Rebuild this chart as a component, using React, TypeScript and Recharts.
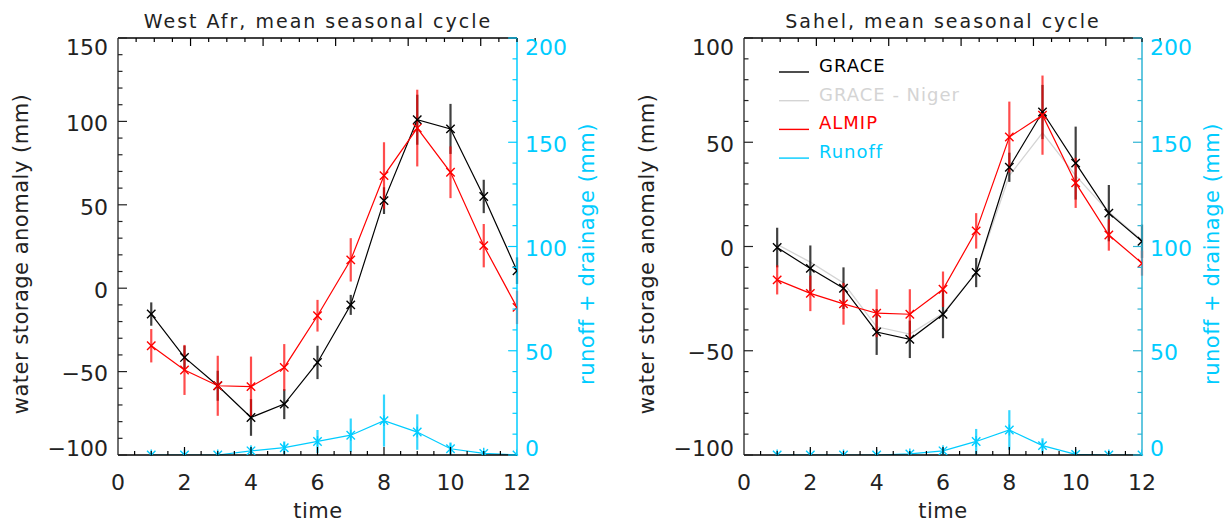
import { ComposedChart, Line, XAxis, YAxis, ErrorBar, Legend } from "recharts";

// months on the x axis
const months = [1, 2, 3, 4, 5, 6, 7, 8, 9, 10, 11, 12];
const xMajorTicks = [0, 2, 4, 6, 8, 10, 12];

// West Africa
const waGrace = [-15.5, -41.5, -58.5, -77.5, -69.5, -44.5, -10, 52.5, 101, 95.5, 55, 10.5];
const waGraceErr = [7, 7, 9, 11, 9, 10, 6, 8, 15, 15, 10, 8];
const waAlmip = [-34.5, -49, -58.5, -59, -47.5, -16.5, 17, 67.5, 96, 69.5, 25.5, -11.5];
const waAlmipErr = [10, 15, 18, 18, 14, 9.5, 13, 20, 23, 15.5, 13, 10];
const waRunoff = [0, 0, 0, 2, 3.5, 6.5, 9.5, 16.5, 11, 3, 0.8, 0];
const waRunoffErr = [0.5, 0.5, 0.5, 2, 3, 5.5, 8, 12.5, 8.5, 3, 1, 0.5];

// Sahel
const sGrace = [-0.5, -10.5, -20, -41, -44.5, -32.5, -12.5, 38, 64.5, 40, 16, 2.5];
const sGraceErr = [9.5, 11, 10, 11, 9, 11.5, 7, 7, 13, 17.5, 13.5, 8];
const sNiger = [1, -7.5, -17.5, -38.5, -42, -32, -12.5, 34, 54.5, 34, 16.5, 3];
const sAlmip = [-16, -22.5, -27.5, -32, -32.5, -20.5, 7.5, 52.5, 63, 30.5, 5.5, -8];
const sAlmipErr = [7, 8.5, 10, 11.5, 12, 8.5, 8.5, 17, 19, 12, 7.5, 6];
const sRunoff = [0, 0, 0, 0, 0.5, 2, 6.5, 12, 4.5, 0.3, 0, 0];
const sRunoffErr = [0.5, 0.5, 0.5, 0.5, 0.5, 1.5, 6, 9.5, 3.5, 0.5, 0.5, 0.5];

const waLeftMajor = [-100, -50, 0, 50, 100, 150];
const sLeftMajor = [-100, -50, 0, 50, 100];
const rightMajor = [0, 50, 100, 150, 200];

const legendItems = [
  { label: "GRACE", color: "#000000" },
  { label: "GRACE - Niger", color: "#d4d4d4" },
  { label: "ALMIP", color: "#ff0000" },
  { label: "Runoff", color: "#00ccff" },
];

const FONT = "'DejaVu Sans', sans-serif";
const CYAN = "#00ccff";

const withMinor = (majors: number[], step: number) => {
  const out: number[] = [];
  const lo = majors[0];
  const hi = majors[majors.length - 1];
  for (let v = lo; v <= hi + 1e-9; v += step) out.push(Math.round(v * 100) / 100);
  return out;
};
const fmt = (v: number) => (v < 0 ? "\u2212" + Math.abs(v) : String(v));

const xTick = (side: "bottom" | "top") => (props: any) => {
  const { x, y, payload } = props;
  const v = payload.value;
  const major = xMajorTicks.includes(v);
  const edge = v === xMajorTicks[0] || v === xMajorTicks[xMajorTicks.length - 1];
  const len = major ? 8 : 4;
  const dir = side === "bottom" ? -1 : 1;
  return (
    <g>
      {!edge && <line x1={x} x2={x} y1={y} y2={y + dir * len} stroke="#000" strokeWidth={1.2} />}
      {side === "bottom" && major && (
        <text x={x} y={y + 35} textAnchor="middle" fontSize={22} fontFamily={FONT} fill="#222">
          {v}
        </text>
      )}
    </g>
  );
};

const yTick =
  (side: "left" | "right", majors: number[], color: string, labelColor: string) => (props: any) => {
    const { x, y, payload } = props;
    const v = payload.value;
    const major = majors.includes(v);
    const len = major ? 9 : 4.5;
    const dir = side === "left" ? 1 : -1;
    let dy = 9.7;
    if (v === majors[majors.length - 1]) dy = 16.5;
    if (v === majors[0]) dy = 1;
    return (
      <g>
        <line x1={x} x2={x + dir * len} y1={y} y2={y} stroke={color} strokeWidth={1.2} />
        {major && (
          <text
            x={side === "left" ? x - 10 : x + 8}
            y={y + dy}
            textAnchor={side === "left" ? "end" : "start"}
            fontSize={22}
            fontFamily={FONT}
            fill={labelColor}
          >
            {fmt(v)}
          </text>
        )}
      </g>
    );
  };

const crossDot = (color: string) => (props: any) => {
  const { cx, cy, index } = props;
  if (cx == null || cy == null) return <g key={index} />;
  const s = 4.2;
  return (
    <path
      key={index}
      d={`M${cx - s},${cy - s}L${cx + s},${cy + s}M${cx - s},${cy + s}L${cx + s},${cy - s}`}
      stroke={color}
      strokeWidth={1.4}
      fill="none"
    />
  );
};

const starDot = (color: string) => (props: any) => {
  const { cx, cy, index } = props;
  if (cx == null || cy == null) return <g key={index} />;
  const s = 4.2;
  return (
    <path
      key={index}
      d={`M${cx - s},${cy - s}L${cx + s},${cy + s}M${cx - s},${cy + s}L${cx + s},${cy - s}M${cx},${cy - s * 1.3}L${cx},${cy + s * 1.3}`}
      stroke={color}
      strokeWidth={1.4}
      fill="none"
    />
  );
};

const LegendBox = () => (
  <svg width={220} height={120}>
    {legendItems.map((it, i) => (
      <g key={it.label}>
        <line x1={0} x2={30} y1={22 + i * 28.7} y2={22 + i * 28.7} stroke={it.color} strokeWidth={1.4} />
        <text x={40} y={22 + i * 28.7} fontSize={18} fontFamily={FONT} fill={it.color} letterSpacing={1}>
          {it.label}
        </text>
      </g>
    ))}
  </svg>
);

type PanelProps = {
  width: number;
  rightWidth: number;
  grace: number[];
  graceErr: number[];
  almip: number[];
  almipErr: number[];
  runoff: number[];
  runoffErr: number[];
  niger?: number[];
  leftMajor: number[];
  rightAxisColor: string;
  legend?: boolean;
};

function Panel(p: PanelProps) {
  const data = months.map((m, i) => ({
    month: m,
    grace: p.grace[i],
    graceErr: p.graceErr[i],
    almip: p.almip[i],
    almipErr: p.almipErr[i],
    runoff: p.runoff[i],
    runoffErr: p.runoffErr[i],
    niger: p.niger ? p.niger[i] : null,
  }));
  const xTicks = withMinor(xMajorTicks, 0.5);
  const lTicks = withMinor(p.leftMajor, 10);
  const rTicks = withMinor(rightMajor, 10);
  const lDomain = [p.leftMajor[0], p.leftMajor[p.leftMajor.length - 1]];
  return (
    <ComposedChart width={p.width} height={523} data={data} margin={{ top: 37, right: 0, bottom: 0, left: 0 }}>
      <XAxis
        dataKey="month"
        type="number"
        domain={[0, 12]}
        ticks={xTicks}
        interval={0}
        allowDataOverflow
        height={68}
        tickSize={0}
        tickMargin={0}
        tickLine={false}
        axisLine={{ stroke: "#000", strokeWidth: 1.3 }}
        tick={xTick("bottom")}
      />
      <XAxis
        xAxisId="top"
        orientation="top"
        type="number"
        domain={[0, 12]}
        ticks={xTicks}
        interval={0}
        height={1}
        tickSize={0}
        tickMargin={0}
        tickLine={false}
        axisLine={{ stroke: "#000", strokeWidth: 1.3 }}
        tick={xTick("top")}
      />
      <YAxis
        yAxisId="left"
        type="number"
        domain={lDomain}
        ticks={lTicks}
        interval={0}
        allowDataOverflow
        width={118}
        tickSize={0}
        tickMargin={0}
        tickLine={false}
        axisLine={{ stroke: "#222", strokeWidth: 1.3 }}
        tick={yTick("left", p.leftMajor, "#222", "#222")}
      />
      <YAxis
        yAxisId="right"
        orientation="right"
        type="number"
        domain={[0, 200]}
        ticks={rTicks}
        interval={0}
        allowDataOverflow
        width={p.rightWidth}
        tickSize={0}
        tickMargin={0}
        tickLine={false}
        axisLine={{ stroke: p.rightAxisColor, strokeWidth: 1.5 }}
        tick={yTick("right", rightMajor, p.rightAxisColor, CYAN)}
      />
      {p.niger && (
        <Line
          yAxisId="left"
          dataKey="niger"
          stroke="#d4d4d4"
          strokeWidth={1.3}
          dot={false}
          isAnimationActive={false}
        />
      )}
      <Line
        yAxisId="left"
        dataKey="grace"
        stroke="#000"
        strokeWidth={1.2}
        dot={crossDot("#000")}
        isAnimationActive={false}
      >
        <ErrorBar dataKey="graceErr" width={0} stroke="#000" strokeWidth={2.2} strokeOpacity={0.75} direction="y" />
      </Line>
      <Line
        yAxisId="left"
        dataKey="almip"
        stroke="#ff0000"
        strokeWidth={1.2}
        dot={crossDot("#ff0000")}
        isAnimationActive={false}
      >
        <ErrorBar dataKey="almipErr" width={0} stroke="#ff0000" strokeWidth={2.2} strokeOpacity={0.7} direction="y" />
      </Line>
      <Line
        yAxisId="right"
        dataKey="runoff"
        stroke={CYAN}
        strokeWidth={1.2}
        dot={starDot(CYAN)}
        isAnimationActive={false}
      >
        <ErrorBar dataKey="runoffErr" width={0} stroke={CYAN} strokeWidth={2.2} strokeOpacity={0.8} direction="y" />
      </Line>
      {p.legend && (
        <Legend
          layout="vertical"
          align="center"
          verticalAlign="middle"
          content={<LegendBox />}
          wrapperStyle={{ left: 153, top: 50, width: 220, height: 120 }}
        />
      )}
    </ComposedChart>
  );
}

export default function App() {
  const txt = { fontFamily: FONT, fill: "#222" };
  return (
    <div style={{ position: "absolute", left: 0, top: 0, width: 1231, height: 523, background: "#fff" }}>
      <div style={{ position: "absolute", left: 0, top: 0 }}>
        <Panel
          width={615}
          rightWidth={98}
          grace={waGrace}
          graceErr={waGraceErr}
          almip={waAlmip}
          almipErr={waAlmipErr}
          runoff={waRunoff}
          runoffErr={waRunoffErr}
          leftMajor={waLeftMajor}
          rightAxisColor={CYAN}
        />
      </div>
      <div style={{ position: "absolute", left: 626, top: 0 }}>
        <Panel
          width={605}
          rightWidth={89}
          grace={sGrace}
          graceErr={sGraceErr}
          almip={sAlmip}
          almipErr={sAlmipErr}
          runoff={sRunoff}
          runoffErr={sRunoffErr}
          niger={sNiger}
          leftMajor={sLeftMajor}
          rightAxisColor="#2fb4d4"
          legend
        />
      </div>
      <svg width={1231} height={523} style={{ position: "absolute", left: 0, top: 0, pointerEvents: "none" }}>
        <text x={318} y={28} textAnchor="middle" fontSize={19} letterSpacing={2} {...txt}>
          West Afr, mean seasonal cycle
        </text>
        <text x={943} y={28} textAnchor="middle" fontSize={19} letterSpacing={2} {...txt}>
          Sahel, mean seasonal cycle
        </text>
        <text x={318} y={518} textAnchor="middle" fontSize={21} letterSpacing={0.5} {...txt}>time</text>
        <text x={943} y={518} textAnchor="middle" fontSize={21} letterSpacing={0.5} {...txt}>time</text>
        <text transform="translate(28,254) rotate(-90)" textAnchor="middle" fontSize={21} letterSpacing={0.5} {...txt}>
          water storage anomaly (mm)
        </text>
        <text transform="translate(654,254) rotate(-90)" textAnchor="middle" fontSize={21} letterSpacing={0.5} {...txt}>
          water storage anomaly (mm)
        </text>
        <text transform="translate(594,254) rotate(-90)" textAnchor="middle" fontSize={21} letterSpacing={0.5} fontFamily={FONT} fill={CYAN}>
          runoff + drainage (mm)
        </text>
        <text transform="translate(1219,254) rotate(-90)" textAnchor="middle" fontSize={21} letterSpacing={0.5} fontFamily={FONT} fill={CYAN}>
          runoff + drainage (mm)
        </text>
      </svg>
    </div>
  );
}
